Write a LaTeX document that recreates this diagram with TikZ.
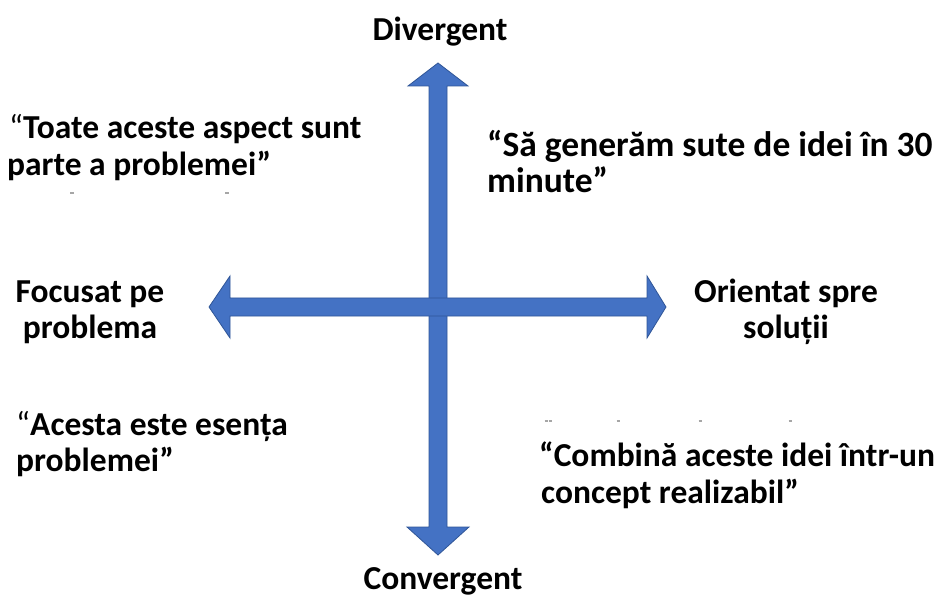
\documentclass[tikz,border=0pt]{standalone}
\usepackage{fontspec}
\setmainfont{Carlito}
\definecolor{arrowblue}{HTML}{4472C4}
\definecolor{arrowedge}{HTML}{2F5597}
\begin{document}
\begin{tikzpicture}[x=1pt,y=-1pt,
  axisarrow/.style={fill=arrowblue, draw=arrowedge, line width=0.8pt, line join=miter},
  lbl/.style={font=\fontsize{33.5}{38}\selectfont\bfseries, inner sep=0pt, text=black},
  biglbl/.style={lbl, font=\fontsize{35.5}{40}\selectfont\bfseries},
  speck/.style={draw=black!35, line width=1.2pt},
]
\useasboundingbox (0,0) rectangle (943,596);
\fill[white] (0,0) rectangle (943,596);

% arrow tips
\coordinate (up) at (438,63);
\coordinate (down) at (438,555);
\coordinate (west) at (209,307);
\coordinate (east) at (666,307);

% vertical axis: divergent / convergent
\draw[axisarrow] (up) -- (468,86) -- (447,86) -- (447,527) -- (469,527) -- (down)
  -- (407,527) -- (429,527) -- (429,86) -- (408,86) -- cycle;

% horizontal axis: problem / solution
\draw[axisarrow] (west) -- (230,276) -- (230,298) -- (647,298) -- (647,276) -- (east)
  -- (647,338) -- (647,316) -- (230,316) -- (230,338) -- cycle;

% axis labels
\node[lbl, anchor=base] (div) at (440,41) {Divergent};
\node[lbl, anchor=base] (conv) at (443,589) {Convergent};
\node[lbl, anchor=base] (l1) at (90,302) {Focusat pe};
\node[lbl, anchor=base] (l2) at (90,338) {problema};
\node[lbl, anchor=base] (r1) at (786,302) {Orientat spre};
\node[lbl, anchor=base] (r2) at (786,338) {soluții};

% quadrant quotes
\node[lbl, anchor=base west] (tl1) at (9,139) {{\mdseries “}Toate aceste aspect sunt};
\node[lbl, anchor=base west] (tl2) at (7,176) {parte a problemei”};
\node[biglbl, anchor=base west] (tr1) at (487,157) {“Să generăm sute de idei în 30};
\node[biglbl, anchor=base west] (tr2) at (487,193) {minute”};
\node[lbl, anchor=base west] (bl1) at (16,435) {{\mdseries “}Acesta este esența};
\node[lbl, anchor=base west] (bl2) at (16,471) {problemei”};
\node[lbl, anchor=base west] (br1) at (539,466) {“Combină aceste idei într-un};
\node[lbl, anchor=base west] (br2) at (541,503) {concept realizabil”};

% faint leftover marks
\foreach \x in {72,227} \draw[speck] (\x-2,193) -- (\x+2,193);
\foreach \x in {546,550,618,700,790} \draw[speck] (\x-1.5,421) -- (\x+1.5,421);
\end{tikzpicture}
\end{document}
